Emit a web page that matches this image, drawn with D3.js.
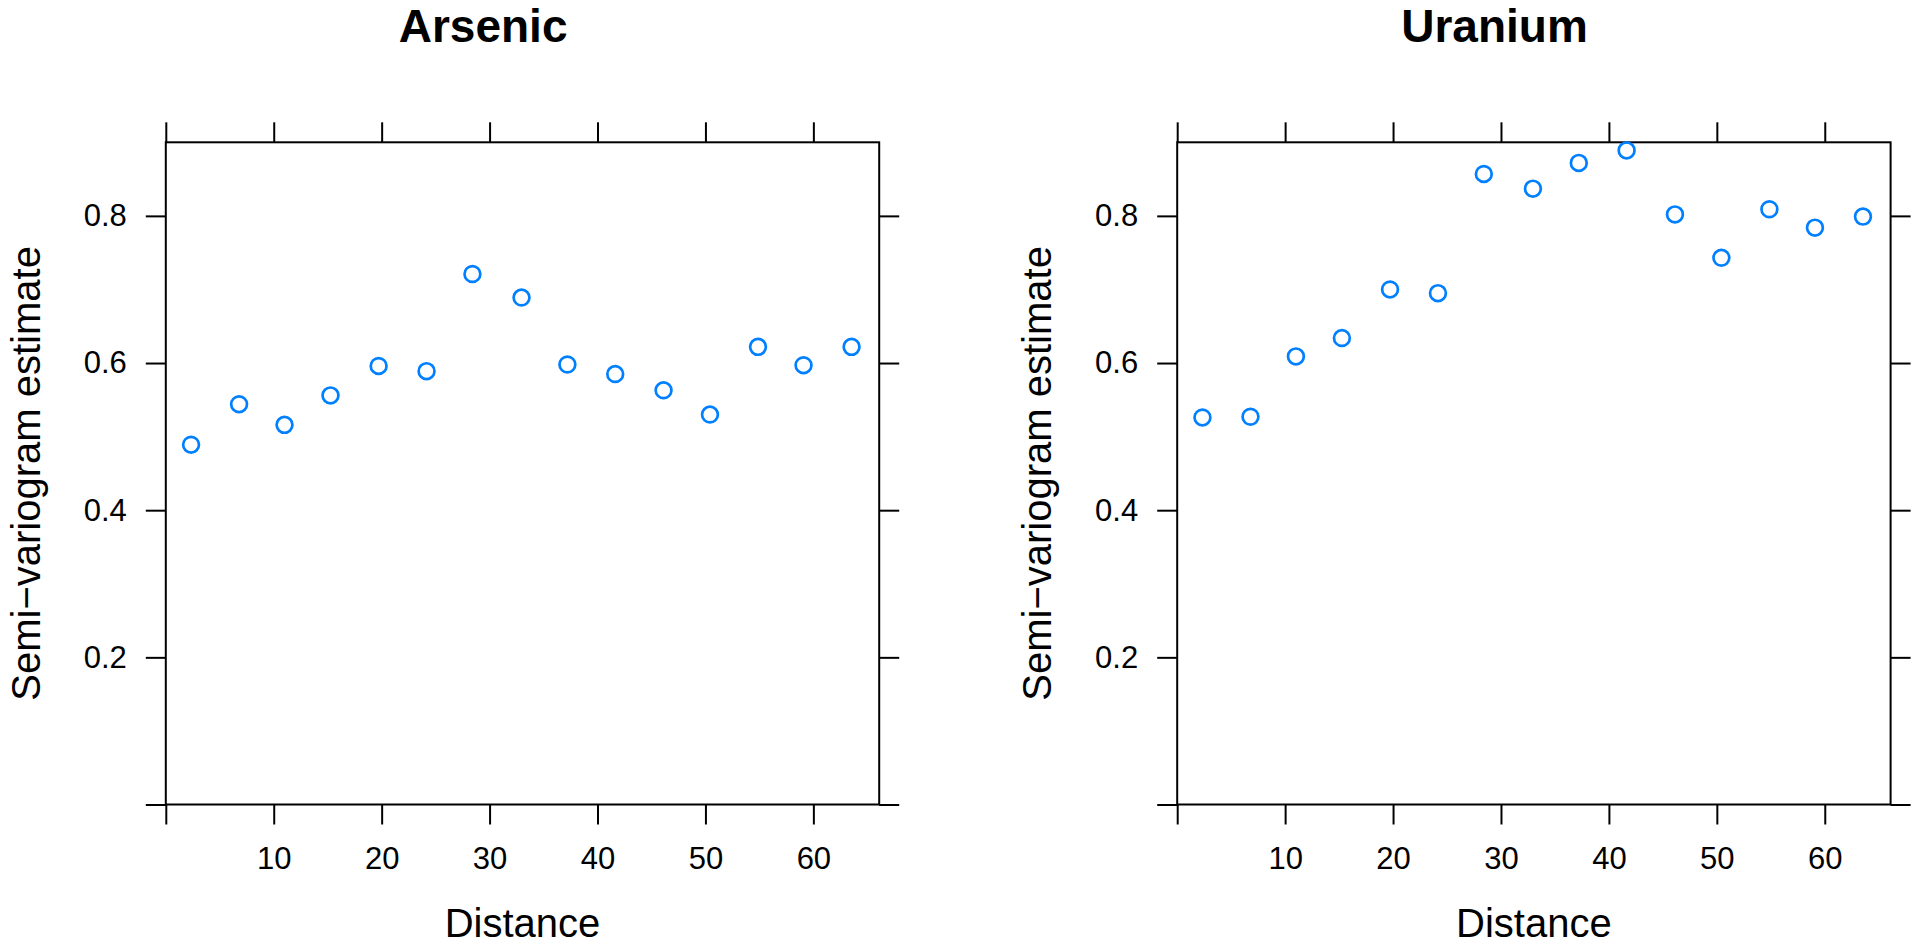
<!DOCTYPE html>
<html>
<head>
<meta charset="utf-8">
<script src="https://cdn.jsdelivr.net/npm/d3@7"></script>
<style>
  html, body { margin: 0; padding: 0; background: #fff; }
  svg { display: block; }
  text { font-family: "Liberation Sans", Arial, Helvetica, sans-serif; fill: #000; }
</style>
</head>
<body>
<svg id="chart" width="1920" height="946"></svg>
<script>
// ---- data ----
const distance = [2.34, 6.79, 11.0, 15.26, 19.72, 24.16, 28.41, 32.96, 37.21, 41.64, 46.12, 50.42, 54.87, 59.09, 63.54];
const arsenic  = [0.489, 0.544, 0.516, 0.556, 0.596, 0.589, 0.721, 0.689, 0.598, 0.585, 0.563, 0.530, 0.622, 0.597, 0.622];
const uranium  = [0.526, 0.527, 0.609, 0.634, 0.700, 0.695, 0.857, 0.837, 0.872, 0.889, 0.802, 0.743, 0.809, 0.784, 0.799];
const panelTitles = ["Arsenic", "Uranium"];
const xTicks = [0, 10, 20, 30, 40, 50, 60];
const yTicks = [0, 0.2, 0.4, 0.6, 0.8];
const xLabel = "Distance";
const yLabel = "Semi\u2212variogram estimate";

const series = [arsenic, uranium];

// ---- layout ----
const svg = d3.select("#chart");
const panelLefts = [165.8, 1177.2];
const panelW = 713.4;
const plotTop = 142.3, plotBottom = 804.5;
const tickLen = 20;
const stroke = "#000";

panelLefts.forEach((left, i) => {
  const x = d3.scaleLinear().domain([0, 66.1]).range([left, left + panelW]);
  const y = d3.scaleLinear().domain([0, 0.9]).range([plotBottom, plotTop]);
  const g = svg.append("g");

  // box
  g.append("rect")
    .attr("x", x.range()[0]).attr("y", plotTop)
    .attr("width", panelW).attr("height", plotBottom - plotTop)
    .attr("fill", "none").attr("stroke", stroke).attr("stroke-width", 2);

  const fmtX = d => d === 0 ? "" : d3.format("d")(d);
  const fmtY = d => d === 0 ? "" : d3.format(".1f")(d);

  const styleAxis = sel => {
    sel.select(".domain").remove();
    sel.selectAll(".tick line").attr("stroke", stroke).attr("stroke-width", 2);
    sel.selectAll(".tick text").style("font-size", "31px").style("font-family", "Liberation Sans, Arial, sans-serif").attr("fill", "#000");
  };

  // bottom axis
  g.append("g").attr("transform", `translate(0,${plotBottom})`)
    .call(d3.axisBottom(x).tickValues(xTicks).tickFormat(fmtX).tickSizeInner(tickLen).tickSizeOuter(0).tickPadding(22))
    .call(styleAxis);
  // top axis (ticks only)
  g.append("g").attr("transform", `translate(0,${plotTop})`)
    .call(d3.axisTop(x).tickValues(xTicks).tickFormat("").tickSizeInner(tickLen).tickSizeOuter(0))
    .call(styleAxis);
  // left axis
  g.append("g").attr("transform", `translate(${left},0)`)
    .call(d3.axisLeft(y).tickValues(yTicks).tickFormat(fmtY).tickSizeInner(tickLen).tickSizeOuter(0).tickPadding(19))
    .call(styleAxis);
  // right axis (ticks only)
  g.append("g").attr("transform", `translate(${left + panelW},0)`)
    .call(d3.axisRight(y).tickValues(yTicks).tickFormat("").tickSizeInner(tickLen).tickSizeOuter(0))
    .call(styleAxis);

  // points
  g.append("g").selectAll("circle")
    .data(distance.map((d, k) => ({ d, v: series[i][k] })))
    .join("circle")
    .attr("cx", p => x(p.d)).attr("cy", p => y(p.v))
    .attr("r", 7.9)
    .attr("fill", "none").attr("stroke", "#0080ff").attr("stroke-width", 2.7);

  // title
  g.append("text")
    .attr("x", left + 317.3).attr("y", 42)
    .attr("text-anchor", "middle")
    .style("font-size", "46px").style("font-weight", "bold")
    .text(panelTitles[i]);

  // x label
  g.append("text")
    .attr("x", left + panelW / 2).attr("y", 937.3)
    .attr("text-anchor", "middle")
    .style("font-size", "40px")
    .text(xLabel);

  // y label
  g.append("text")
    .attr("transform", `translate(${left - 126.3},${(plotTop + plotBottom) / 2}) rotate(-90)`)
    .attr("text-anchor", "middle")
    .style("font-size", "40px")
    .text(yLabel);
});
</script>
</body>
</html>
